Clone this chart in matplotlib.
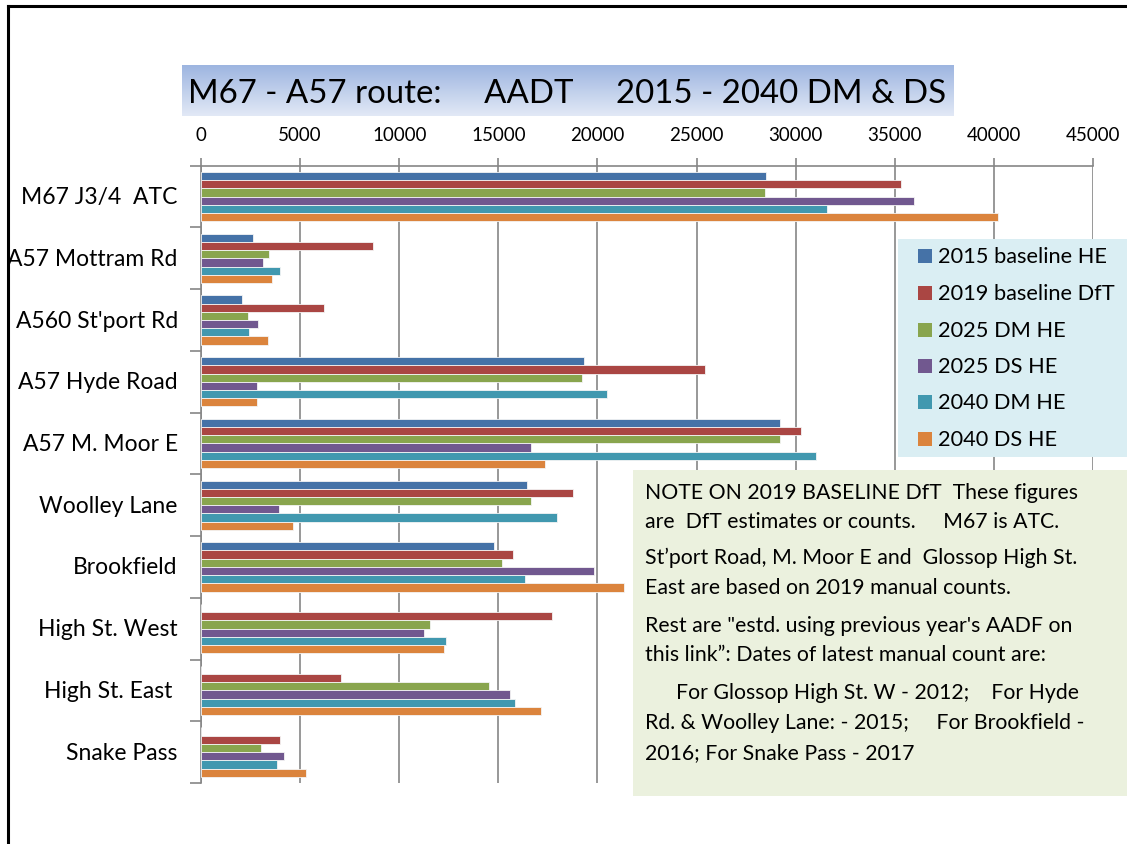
import numpy as np
import matplotlib
matplotlib.use("Agg")
import matplotlib.pyplot as plt
from matplotlib.patches import Rectangle
from matplotlib.colors import LinearSegmentedColormap

plt.rcParams['font.family'] = ['Lato', 'DejaVu Sans']

categories = ["M67 J3/4  ATC", "A57 Mottram Rd", "A560 St'port Rd", "A57 Hyde Road",
              "A57 M. Moor E", "Woolley Lane", "Brookfield", "High St. West",
              "High St. East ", "Snake Pass"]
series_names = ["2015 baseline HE", "2019 baseline DfT", "2025 DM HE",
                "2025 DS HE", "2040 DM HE", "2040 DS HE"]
s2015_base_he = [28500, 2600, 2050, 19300, 29200, 16450, 14800, 0, 0, 0]
s2019_base_dft = [35300, 8700, 6200, 25450, 30250, 18750, 15750, 17700, 7050, 4000]
s2025_dm_he = [28450, 3450, 2350, 19200, 29200, 16650, 15200, 11550, 14550, 3050]
s2025_ds_he = [35950, 3150, 2900, 2850, 16650, 3950, 19850, 11250, 15600, 4200]
s2040_dm_he = [31600, 4000, 2400, 20500, 31050, 17950, 16350, 12350, 15850, 3850]
s2040_ds_he = [40200, 3600, 3400, 2850, 17350, 4650, 21350, 12250, 17150, 5300]
xticks = [0, 5000, 10000, 15000, 20000, 25000, 30000, 35000, 40000, 45000]

series = [s2015_base_he, s2019_base_dft, s2025_dm_he, s2025_ds_he, s2040_dm_he, s2040_ds_he]
colors = ["#4572A7", "#AA4643", "#89A54E", "#71588F", "#4198AF", "#DB843D"]

W, H = 1127, 845
fig = plt.figure(figsize=(W / 100, H / 100), dpi=100)


def fx(x):
    return x / W


def fy(y):
    return 1 - y / H


# outer frame (left and top)
fig.add_artist(plt.Line2D([fx(8), fx(8)], [fy(7), 0], color="black", lw=2.2))
fig.add_artist(plt.Line2D([fx(8), 1], [fy(7), fy(7)], color="black", lw=2.2))

# main axes
left, right, top, bottom = 201, 1093, 166.7, 784
ax = fig.add_axes([fx(left), fy(bottom), fx(right - left), (bottom - top) / H])
n = len(categories)
h = 1 / 7.5
y = np.arange(n)
for j, (vals, c, name) in enumerate(zip(series, colors, series_names)):
    ax.barh(y + (j - 2.5) * h, vals, height=h, color=c, edgecolor="#F4F4F4",
            linewidth=0.6, label=name, zorder=3)

ax.set_xlim(0, 45000)
ax.set_ylim(n - 0.5, -0.5)
ax.xaxis.tick_top()
ax.set_xticks(xticks)
ax.set_xticklabels([str(t) for t in xticks], fontsize=13.5)
ax.tick_params(axis="x", which="major", length=6, color="#868686", pad=10, width=1.2)
ax.set_yticks(y)
ax.set_yticklabels([])
ax.set_yticks(np.arange(n + 1) - 0.5, minor=True)
ax.tick_params(axis="y", which="major", length=0)
ax.tick_params(axis="y", which="minor", length=8, color="#868686", width=1.2)
ax.grid(axis="x", color="#868686", lw=1.2, zorder=0)
for s in ["bottom", "right"]:
    ax.spines[s].set_visible(False)
for s in ["top", "left"]:
    ax.spines[s].set_color("#868686")
    ax.spines[s].set_linewidth(1.2)

# category labels
for i, cat in enumerate(categories):
    ax.text(-0.026, i, cat, transform=ax.get_yaxis_transform(), ha="right",
            va="center", fontsize=16.5, color="black")

# title with gradient box
tax = fig.add_axes([fx(182), fy(117), fx(954 - 182), (117 - 66) / H])
cmap = LinearSegmentedColormap.from_list("tg", ["#9CB4E0", "#E2E9F6"])
tax.imshow(np.linspace(0, 1, 100).reshape(-1, 1), aspect="auto", cmap=cmap,
           extent=[0, 1, 0, 1], origin="upper")
tax.set_axis_off()
fig.text(fx(188), fy(94), "M67 - A57 route:     AADT     2015 - 2040 DM & DS",
         fontsize=23.8, ha="left", va="center", color="black")

# legend box
fig.add_artist(Rectangle((fx(898), fy(458)), fx(1127 - 898), (458 - 240) / H,
                         transform=fig.transFigure, facecolor="#DAEEF3",
                         edgecolor="none", zorder=5))
leg_y = [257, 294, 331, 367, 403, 440]
for name, c, yy in zip(series_names, colors, leg_y):
    fig.add_artist(Rectangle((fx(918), fy(yy + 7)), fx(14), 14 / H,
                             transform=fig.transFigure, facecolor=c,
                             edgecolor="none", zorder=6))
    fig.text(fx(938), fy(yy), name, fontsize=15.7, ha="left", va="center",
             zorder=7, color="black")

# note box
fig.add_artist(Rectangle((fx(633), fy(797)), fx(1127 - 633), (797 - 471) / H,
                         transform=fig.transFigure, facecolor="#EBF1DE",
                         edgecolor="none", zorder=5))
note_lines = [
    (645, 493, "NOTE ON 2019 BASELINE DfT  These figures"),
    (645, 522, "are  DfT estimates or counts.     M67 is ATC."),
    (645, 558, "St\u2019port Road, M. Moor E and  Glossop High St."),
    (645, 588, "East are based on 2019 manual counts."),
    (645, 626, "Rest are \"estd. using previous year's AADF on"),
    (645, 655, "this link\u201d: Dates of latest manual count are:"),
    (676, 693, "For Glossop High St. W - 2012;    For Hyde"),
    (645, 723, "Rd. & Woolley Lane: - 2015;     For Brookfield -"),
    (645, 753, "2016; For Snake Pass - 2017"),
]
for xx, yy, t in note_lines:
    fig.text(fx(xx), fy(yy), t, fontsize=15.3, ha="left", va="center", zorder=7,
             color="black")

fig.savefig("out.png", dpi=100)
